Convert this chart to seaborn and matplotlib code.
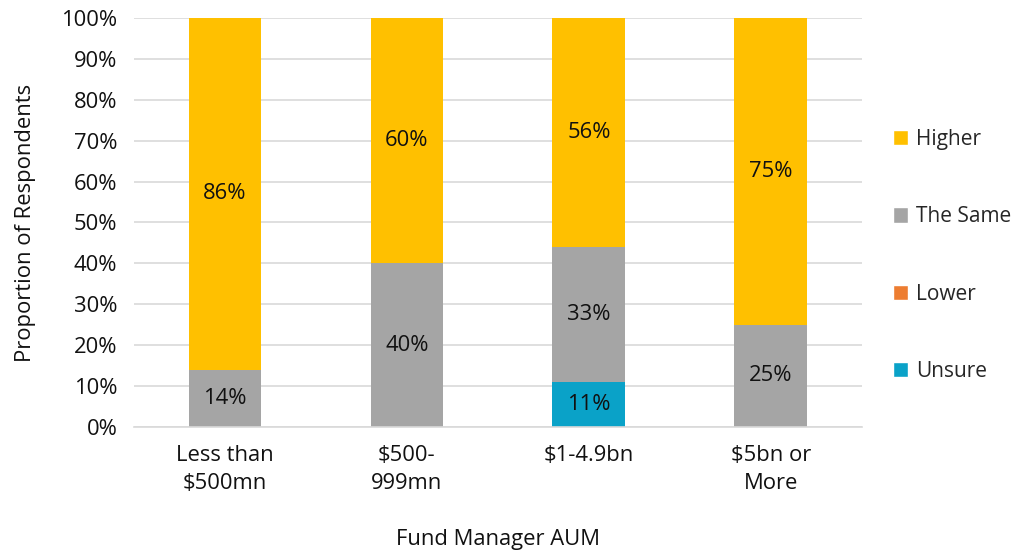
import matplotlib
matplotlib.use("Agg")
import matplotlib.pyplot as plt
import seaborn as sns
import numpy as np
from matplotlib.patches import Patch

categories = ["Less than\n$500mn", "$500-\n999mn", "$1-4.9bn", "$5bn or\nMore"]
unsure = [0, 0, 11, 0]
lower = [0, 0, 0, 0]
same = [14, 40, 33, 25]
higher = [86, 60, 56, 75]

series = [("Unsure", unsure, "#0AA2C8"), ("Lower", lower, "#ED7D31"),
          ("The Same", same, "#A5A5A5"), ("Higher", higher, "#FFC000")]

sns.set_theme(style="white")
plt.rcParams['font.family'] = ['Open Sans', 'DejaVu Sans']

FS = 15.8
fig = plt.figure(figsize=(10.18, 5.53), dpi=100)
ax = fig.add_axes([0.1316, 0.228, 0.715, 0.7395])

bottom = np.zeros(len(categories))
for name, vals, col in series:
    vals = np.array(vals, dtype=float)
    sns.barplot(x=categories, y=vals, bottom=bottom, color=col, width=0.4,
                ax=ax, saturation=1, linewidth=0)
    for i, v in enumerate(vals):
        if v > 0:
            ax.text(i, bottom[i] + v / 2, f"{v:.0f}%", ha="center", va="center",
                    fontsize=FS, color="#111111")
    bottom += vals

ax.set_ylim(0, 100)
ax.set_xlim(-0.5, 3.5)
ax.set_yticks(np.arange(0, 101, 10))
ax.set_yticklabels([f"{t}%" for t in range(0, 101, 10)])
for lbl in ax.get_xticklabels():
    lbl.set_linespacing(1.45)
ax.yaxis.grid(True, color="#D9D9D9", linewidth=1.2)
ax.set_axisbelow(True)
for s in ["top", "right", "left"]:
    ax.spines[s].set_visible(False)
ax.spines["bottom"].set_color("#D9D9D9")
ax.spines["bottom"].set_linewidth(1.2)
ax.tick_params(axis="both", length=0, labelsize=FS, colors="#111111")
ax.tick_params(axis="y", pad=12)
ax.tick_params(axis="x", pad=13)
ax.set_xlabel("Fund Manager AUM", fontsize=FS, color="#111111", labelpad=25)
ax.set_ylabel("Proportion of Respondents", fontsize=FS, color="#111111", labelpad=18)

handles = [Patch(facecolor=c, label=n) for n, _, c in reversed(series)]
leg = fig.legend(handles=handles, loc="center left", bbox_to_anchor=(0.877, 0.538),
                 frameon=False, fontsize=15, handlelength=0.75, handleheight=0.75,
                 handletextpad=0.35, labelspacing=2.7, borderpad=0, borderaxespad=0)

fig.savefig("out.png", dpi=100)
